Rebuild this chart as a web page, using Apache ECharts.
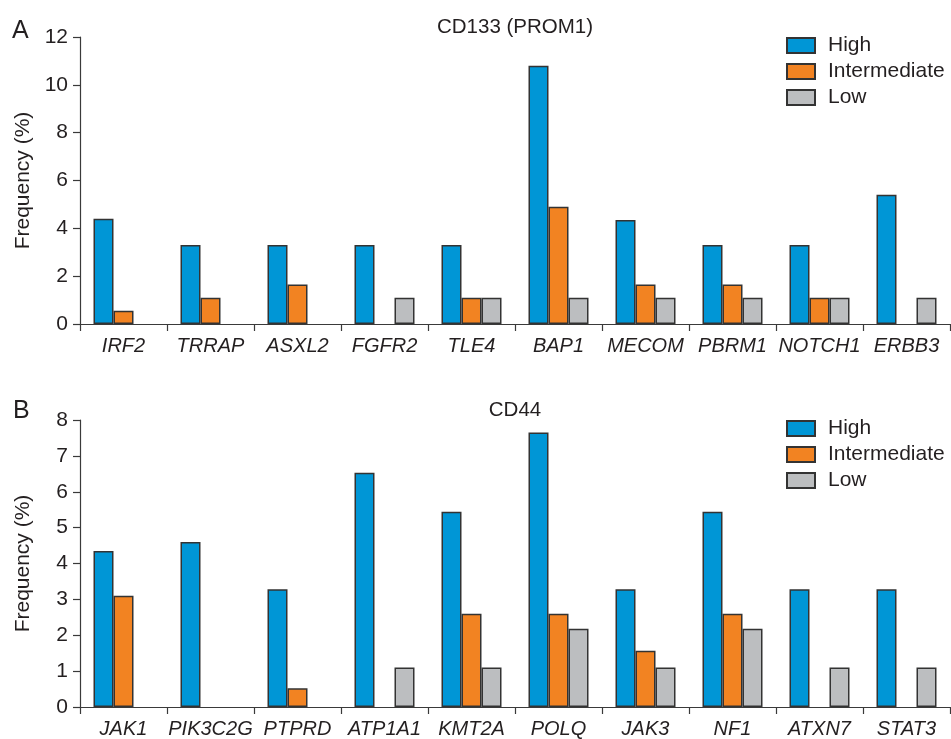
<!DOCTYPE html>
<html>
<head>
<meta charset="utf-8">
<title>Mutation frequency by CD133 / CD44 expression</title>
<script src="https://cdn.jsdelivr.net/npm/echarts@6/dist/echarts.min.js"></script>
<style>
  html, body { margin: 0; padding: 0; background: #ffffff; }
  #chart { width: 951px; height: 739px; }
</style>
</head>
<body>
<div id="chart"></div>
<script>
// Panel A: CD133 (PROM1)
const genesA = ['IRF2', 'TRRAP', 'ASXL2', 'FGFR2', 'TLE4', 'BAP1', 'MECOM', 'PBRM1', 'NOTCH1', 'ERBB3'];
const highA = [4.4, 3.3, 3.3, 3.3, 3.3, 10.8, 4.35, 3.3, 3.3, 5.4];
const interA = [0.55, 1.1, 1.65, null, 1.1, 4.9, 1.65, 1.65, 1.1, null];
const lowA = [null, null, null, 1.1, 1.1, 1.1, 1.1, 1.1, 1.1, 1.1];

// Panel B: CD44
const genesB = ['JAK1', 'PIK3C2G', 'PTPRD', 'ATP1A1', 'KMT2A', 'POLQ', 'JAK3', 'NF1', 'ATXN7', 'STAT3'];
const highB = [4.35, 4.6, 3.28, 6.53, 5.44, 7.65, 3.28, 5.44, 3.28, 3.28];
const interB = [3.1, null, 0.52, null, 2.6, 2.6, 1.57, 2.6, null, null];
const lowB = [null, null, null, 1.1, 1.1, 2.18, 1.1, 2.18, 1.1, 1.1];

const groupNames = ['High', 'Intermediate', 'Low'];
const groupColors = ['#0096d6', '#f28322', '#bcbec0'];

const ink = '#231f20';
const font = 'Liberation Sans';

const chart = echarts.init(document.getElementById('chart'), null, { renderer: 'canvas' });

function xAxisFor(cats, gridIndex) {
  return {
    type: 'category',
    gridIndex: gridIndex,
    data: cats,
    axisLine: { lineStyle: { color: '#3a3a3a', width: 1.2 } },
    axisTick: { show: true, length: 7, lineStyle: { color: '#3a3a3a', width: 1.2 } },
    axisLabel: { color: ink, fontFamily: font, fontSize: 20, fontStyle: 'italic', margin: 12, interval: 0 },
    splitLine: { show: false }
  };
}

function yAxisFor(max, interval, gridIndex) {
  return {
    type: 'value',
    gridIndex: gridIndex,
    min: 0,
    max: max,
    interval: interval,
    name: 'Frequency (%)',
    nameLocation: 'middle',
    nameGap: 46,
    nameTextStyle: { color: ink, fontFamily: font, fontSize: 21 },
    axisLine: { show: true, lineStyle: { color: '#3a3a3a', width: 1.2 } },
    axisTick: { show: true, length: 7, lineStyle: { color: '#3a3a3a', width: 1.2 } },
    axisLabel: { color: ink, fontFamily: font, fontSize: 21, margin: 12 },
    splitLine: { show: false }
  };
}

function barSeries(name, data, colorIdx, axisIdx) {
  return {
    name: name,
    type: 'bar',
    xAxisIndex: axisIdx,
    yAxisIndex: axisIdx,
    data: data,
    barWidth: 20,
    barGap: '0%',
    itemStyle: { color: groupColors[colorIdx], borderColor: '#333333', borderWidth: 1.5 },
    emphasis: { disabled: true },
    animation: false
  };
}

function legendAt(top) {
  return {
    data: groupNames,
    orient: 'vertical',
    left: 786,
    top: top,
    padding: 0,
    itemWidth: 28,
    itemHeight: 15,
    itemGap: 5,
    icon: 'rect',
    textStyle: { color: ink, fontFamily: font, fontSize: 21, lineHeight: 21, padding: [0, 0, 0, 8] },
    selectedMode: false
  };
}

function label(text, left, top, size) {
  return {
    text: text, left: left, top: top, padding: 0, textAlign: left === 515 ? 'center' : 'left',
    textStyle: { color: ink, fontFamily: font, fontSize: size, fontWeight: 'normal' }
  };
}

const option = {
  backgroundColor: '#ffffff',
  animation: false,
  title: [
    label('CD133 (PROM1)', 515, 17, 20.5),
    label('CD44', 515, 400, 20.5),
    label('A', 12, 19, 25),
    label('B', 13, 399, 25)
  ],
  legend: [legendAt(35), legendAt(418)],
  grid: [
    { left: 80, top: 37, width: 870, height: 287 },
    { left: 80, top: 420, width: 870, height: 287 }
  ],
  xAxis: [xAxisFor(genesA, 0), xAxisFor(genesB, 1)],
  yAxis: [yAxisFor(12, 2, 0), yAxisFor(8, 1, 1)],
  series: [
    barSeries('High', highA, 0, 0),
    barSeries('Intermediate', interA, 1, 0),
    barSeries('Low', lowA, 2, 0),
    barSeries('High', highB, 0, 1),
    barSeries('Intermediate', interB, 1, 1),
    barSeries('Low', lowB, 2, 1)
  ]
};

chart.setOption(option);
</script>
</body>
</html>
